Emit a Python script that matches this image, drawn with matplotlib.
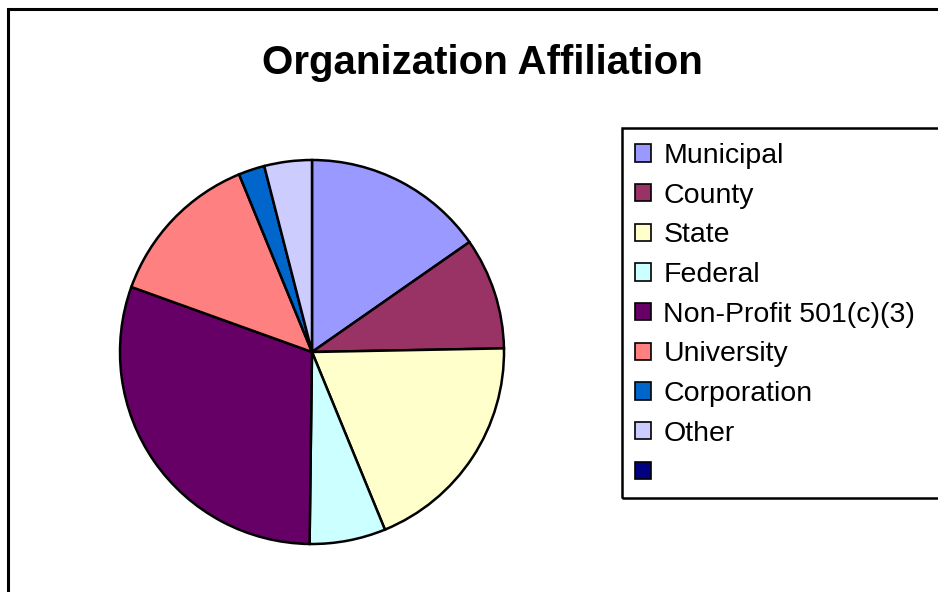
import matplotlib
matplotlib.use("Agg")
import matplotlib.pyplot as plt
from matplotlib.patches import Rectangle, Patch

plt.rcParams["font.family"] = ["Liberation Sans", "DejaVu Sans"]

# share of each affiliation (percent)
categories = ["Municipal", "County", "State", "Federal", "Non-Profit 501(c)(3)",
              "University", "Corporation", "Other", ""]
shares = [15.3, 9.4, 19.1, 6.4, 30.3, 13.3, 2.2, 4.0, 0.0]
colours = ["#9999FF", "#993366", "#FFFFCC", "#CCFFFF", "#660066",
           "#FF8080", "#0066CC", "#CCCCFF", "#000080"]

W, H = 938, 592
fig = plt.figure(figsize=(W / 100, H / 100), dpi=100)
fig.patch.set_facecolor("white")

# outer chart frame (runs off the right and bottom edges)
fig.patches.append(Rectangle((8 / W, -0.1), 1.2, 1 - 9 / H + 0.1, transform=fig.transFigure,
                             fill=False, edgecolor="black", linewidth=2.2))

# pie axes, centred on (312, 352) px with radius 192 px
cx, cy, r = 312, 352, 192
side = 2 * r + 20
ax = fig.add_axes([(cx - side / 2) / W, (H - cy - side / 2) / H, side / W, side / H])
vals = [v for v in shares if v > 0]
cols = [c for v, c in zip(shares, colours) if v > 0]
wedges, _ = ax.pie(vals, colors=cols, startangle=90, counterclock=False,
                   radius=r / (side / 2),
                   wedgeprops=dict(edgecolor="black", linewidth=1.8))
ax.set_xlim(-1, 1)
ax.set_ylim(-1, 1)
ax.set_aspect("equal")
ax.axis("off")

fig.text(482 / W, 1 - 74 / H, "Organization Affiliation", ha="center", va="baseline",
         fontsize=29, fontweight="bold")

# legend box
fig.patches.append(Rectangle((622 / W, (H - 498) / H), 0.6, 370 / H, transform=fig.transFigure,
                             fill=False, edgecolor="black", linewidth=1.8))

handles = [Patch(facecolor=c, edgecolor="black", linewidth=1.2) for c in colours]
leg = fig.legend(handles, categories, loc="upper left",
                 bbox_to_anchor=(635 / W, 1 - 143 / H), frameon=False,
                 fontsize=20.5, handlelength=0.55, handleheight=0.55,
                 handletextpad=0.45, labelspacing=0.48, borderpad=0, borderaxespad=0)

fig.savefig("out.png", dpi=100)
